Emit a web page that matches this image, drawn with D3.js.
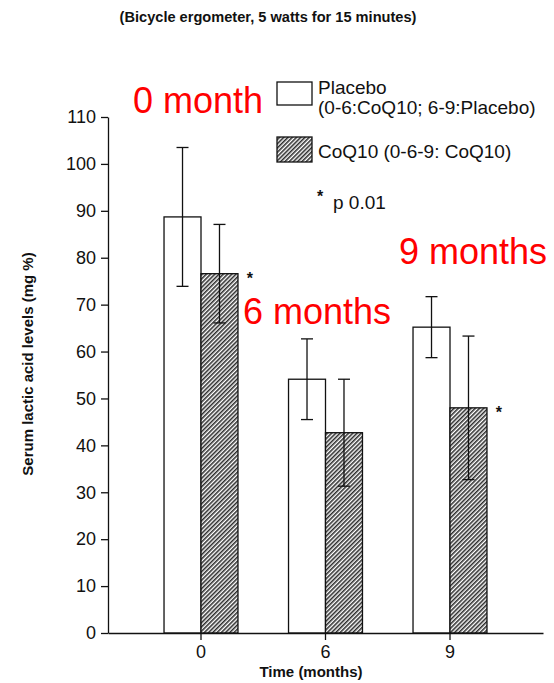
<!DOCTYPE html>
<html>
<head>
<meta charset="utf-8">
<script src="https://cdn.jsdelivr.net/npm/d3@7"></script>
<style>
  html, body { margin: 0; padding: 0; background: #fff; }
  svg { display: block; font-family: "Liberation Sans", Arial, Helvetica, sans-serif; }
</style>
</head>
<body>
<svg id="chart" width="554" height="683"></svg>
<script>
// Serum lactic acid after exercise, by treatment group and time
const months = ["0", "6", "9"];
const groups = ["Placebo", "CoQ10"];
const placeboMean = [88.7, 54.1, 65.2];
const placeboErr  = [14.8, 8.6, 6.5];
const coq10Mean   = [76.6, 42.7, 48.0];
const coq10Err    = [10.5, 11.4, 15.3];
const significant = [true, false, true];   // CoQ10 bars marked with *
const yTicks = [0, 10, 20, 30, 40, 50, 60, 70, 80, 90, 100, 110];
const monthNotes = ["0 month", "6 months", "9 months"];

const rows = [];
months.forEach((m, i) => {
  rows.push({ month: m, group: "Placebo", mean: placeboMean[i], err: placeboErr[i], star: false });
  rows.push({ month: m, group: "CoQ10", mean: coq10Mean[i], err: coq10Err[i], star: significant[i] });
});

const svg = d3.select("#chart");
const ink = "#111";

// plot area
const plotLeft = 108, plotRight = 543, plotTop = 117, plotBottom = 633;

const y = d3.scaleLinear().domain([0, 110]).range([plotBottom, plotTop]);
const x = d3.scaleBand().domain(months).range([plotLeft, plotRight])
  .paddingInner(0.406).paddingOuter(0.45);
const xs = d3.scaleBand().domain(groups).range([0, x.bandwidth()]);

// hatch for the CoQ10 bars
const defs = svg.append("defs");
defs.append("pattern")
  .attr("id", "hatch")
  .attr("patternUnits", "userSpaceOnUse")
  .attr("width", 3).attr("height", 3)
  .attr("patternTransform", "rotate(45)")
  .call(p => {
    p.append("rect").attr("width", 3).attr("height", 3).attr("fill", "#fff");
    p.append("line").attr("x1", 0.8).attr("y1", 0).attr("x2", 0.8).attr("y2", 3)
      .attr("stroke", "#222").attr("stroke-width", 1.5);
  });

const fillFor = g => g === "Placebo" ? "#fff" : "url(#hatch)";

// title
svg.append("text")
  .attr("x", 268).attr("y", 22)
  .attr("text-anchor", "middle")
  .attr("font-weight", "bold").attr("font-size", 14.6)
  .attr("fill", ink)
  .text("(Bicycle ergometer, 5 watts for 15 minutes)");

// bars
const bars = svg.append("g");
bars.selectAll("rect")
  .data(rows)
  .join("rect")
  .attr("x", d => x(d.month) + xs(d.group))
  .attr("y", d => y(d.mean))
  .attr("width", xs.bandwidth())
  .attr("height", d => y(0) - y(d.mean))
  .attr("fill", d => fillFor(d.group))
  .attr("stroke", ink)
  .attr("stroke-width", 1.3);

// error bars
const cap = 6;
const eb = svg.append("g").attr("stroke", ink).attr("stroke-width", 1.3).attr("fill", "none");
rows.forEach(d => {
  const cx = x(d.month) + xs(d.group) + xs.bandwidth() / 2;
  const yHi = y(d.mean + d.err), yLo = y(d.mean - d.err);
  eb.append("line").attr("x1", cx).attr("x2", cx).attr("y1", yHi).attr("y2", yLo);
  eb.append("line").attr("x1", cx - cap).attr("x2", cx + cap).attr("y1", yHi).attr("y2", yHi);
  eb.append("line").attr("x1", cx - cap).attr("x2", cx + cap).attr("y1", yLo).attr("y2", yLo);
});

// significance stars
svg.append("g").selectAll("text")
  .data(rows.filter(d => d.star))
  .join("text")
  .attr("x", d => x(d.month) + xs(d.group) + xs.bandwidth() + 12)
  .attr("y", d => y(d.mean) + 10)
  .attr("text-anchor", "middle")
  .attr("font-size", 16).attr("font-weight", "bold")
  .attr("fill", ink)
  .text("*");

// y axis
const yAxis = svg.append("g")
  .attr("transform", `translate(${plotLeft},0)`)
  .call(d3.axisLeft(y).tickValues(yTicks).tickSize(7).tickSizeOuter(0).tickPadding(5));
yAxis.select(".domain").attr("stroke", ink).attr("stroke-width", 1.3);
yAxis.selectAll(".tick line").attr("stroke", ink).attr("stroke-width", 1.3);
yAxis.selectAll(".tick text")
  .attr("font-family", "Liberation Sans, Arial, sans-serif")
  .attr("font-size", 18).attr("fill", ink);

// x axis
const xAxis = svg.append("g")
  .attr("transform", `translate(0,${plotBottom})`)
  .call(d3.axisBottom(x).tickSize(7).tickSizeOuter(0).tickPadding(5));
xAxis.select(".domain").attr("stroke", ink).attr("stroke-width", 1.3);
xAxis.selectAll(".tick line").attr("stroke", ink).attr("stroke-width", 1.3);
xAxis.selectAll(".tick text")
  .attr("font-family", "Liberation Sans, Arial, sans-serif")
  .attr("font-size", 18).attr("fill", ink);

// axis titles
svg.append("text")
  .attr("x", 311).attr("y", 677)
  .attr("text-anchor", "middle")
  .attr("font-weight", "bold").attr("font-size", 15)
  .attr("fill", ink)
  .text("Time (months)");

svg.append("text")
  .attr("transform", "translate(33,364) rotate(-90)")
  .attr("text-anchor", "middle")
  .attr("font-weight", "bold").attr("font-size", 15)
  .attr("fill", ink)
  .text("Serum lactic acid levels (mg %)");

// legend
const legend = svg.append("g").attr("fill", ink).attr("font-size", 19);
legend.append("rect").attr("x", 277).attr("y", 82).attr("width", 35).attr("height", 23)
  .attr("fill", "#fff").attr("stroke", ink).attr("stroke-width", 1.3);
legend.append("text").attr("x", 318).attr("y", 94).text("Placebo");
legend.append("text").attr("x", 318).attr("y", 114).text("(0-6:CoQ10; 6-9:Placebo)");
legend.append("rect").attr("x", 277).attr("y", 137).attr("width", 35).attr("height", 25)
  .attr("fill", "url(#hatch)").attr("stroke", ink).attr("stroke-width", 1.3);
legend.append("text").attr("x", 318).attr("y", 158).text("CoQ10 (0-6-9: CoQ10)");
legend.append("text").attr("x", 317).attr("y", 202).attr("font-size", 16).attr("font-weight", "bold").text("*");
legend.append("text").attr("x", 333).attr("y", 209).text("p 0.01");

// red month annotations
const notePos = [[133, 113], [243, 324], [399, 264]];
svg.append("g").selectAll("text")
  .data(monthNotes)
  .join("text")
  .attr("x", (d, i) => notePos[i][0])
  .attr("y", (d, i) => notePos[i][1])
  .attr("font-size", 36)
  .attr("fill", "#ff0000")
  .text(d => d);
</script>
</body>
</html>
